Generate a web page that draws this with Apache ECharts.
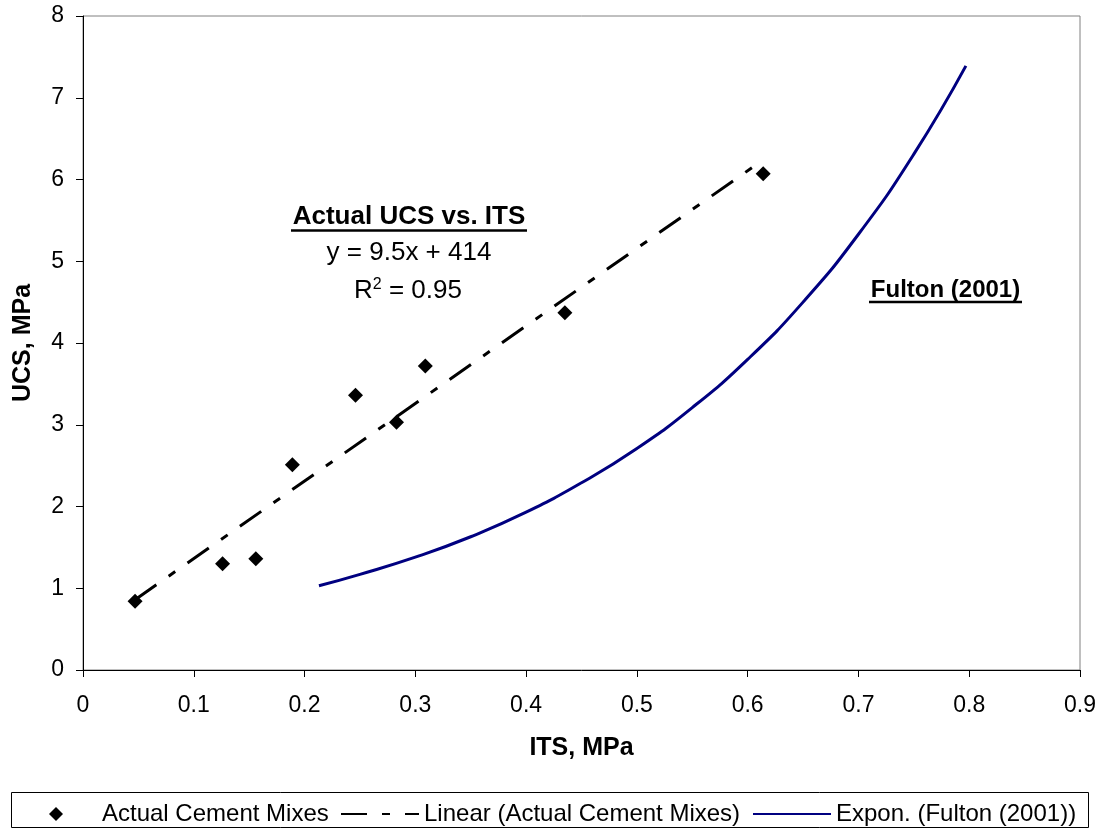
<!DOCTYPE html>
<html><head><meta charset="utf-8">
<script src="https://cdn.jsdelivr.net/npm/echarts@6/dist/echarts.min.js"></script>
<style>html,body{margin:0;padding:0;background:#fff}#c{width:1101px;height:830px}</style>
</head><body><div id="c"></div>
<script>
// Measured data (ITS, MPa vs UCS, MPa)
const mixITS = [0.047, 0.126, 0.156, 0.189, 0.246, 0.283, 0.309, 0.435, 0.614];
const mixUCS = [0.84, 1.30, 1.36, 2.51, 3.36, 3.03, 3.72, 4.37, 6.07];
// Linear trendline ends
const linearITS = [0.047, 0.614];
const linearUCS = [0.86, 6.24];
// Fulton (2001) exponential curve
const fultonITS = [0.213, 0.25, 0.30, 0.35, 0.40, 0.45, 0.50, 0.55, 0.60, 0.65, 0.70, 0.75, 0.797];
const fultonUCS = [1.03, 1.17, 1.38, 1.63, 1.93, 2.29, 2.71, 3.21, 3.80, 4.50, 5.33, 6.31, 7.39];
const xTickLabels = ['0','0.1','0.2','0.3','0.4','0.5','0.6','0.7','0.8','0.9'];
const yTickLabels = ['0','1','2','3','4','5','6','7','8'];
const seriesNames = ['Actual Cement Mixes', 'Linear (Actual Cement Mixes)', 'Expon. (Fulton (2001))'];

const FONT = '"Liberation Sans", Arial, sans-serif';
const zip = (a, b) => a.map((v, i) => [v, b[i]]);

const chart = echarts.init(document.getElementById('c'), null, {renderer: 'canvas'});
const legendText = {fontFamily: FONT, fontSize: 24, color: '#000'};
chart.setOption({
  animation: false,
  backgroundColor: '#fff',
  grid: {left: 83, right: 21, top: 16, bottom: 160, show: true, borderColor: '#808080', borderWidth: 1},
  xAxis: {
    type: 'value', min: 0, max: 0.9, interval: 0.1,
    name: 'ITS, MPa', nameLocation: 'middle', nameGap: 66,
    nameTextStyle: {fontFamily: FONT, fontSize: 25, fontWeight: 'bold', color: '#000'},
    axisLine: {show: true, lineStyle: {color: '#000', width: 1}},
    axisTick: {show: true, inside: false, length: 7, lineStyle: {color: '#000'}},
    axisLabel: {margin: 24, fontFamily: FONT, fontSize: 23, color: '#000',
      formatter: (v) => xTickLabels[Math.round(v * 10)]},
    splitLine: {show: false}
  },
  yAxis: {
    type: 'value', min: 0, max: 8, interval: 1,
    name: 'UCS, MPa', nameLocation: 'middle', nameGap: 47,
    nameTextStyle: {fontFamily: FONT, fontSize: 25, fontWeight: 'bold', color: '#000'},
    axisLine: {show: true, lineStyle: {color: '#000', width: 1}},
    axisTick: {show: true, inside: false, length: 7, lineStyle: {color: '#000'}},
    axisLabel: {margin: 19, fontFamily: FONT, fontSize: 23, color: '#000',
      formatter: (v) => yTickLabels[Math.round(v)]},
    splitLine: {show: false}
  },
  legend: [
    {data: [seriesNames[0]], left: 44, top: 797, itemWidth: 14, itemHeight: 14, itemGap: 0,
      itemStyle: {opacity: 1},
      textStyle: Object.assign({padding: [0, 0, 0, 34]}, legendText)},
    {data: [seriesNames[1]], left: 335, top: 797, itemWidth: 78, itemHeight: 14, itemGap: 0,
      itemStyle: {opacity: 0}, textStyle: legendText},
    {data: [seriesNames[2]], left: 747, top: 797, itemWidth: 78, itemHeight: 14, itemGap: 0,
      itemStyle: {opacity: 0}, textStyle: legendText}
  ],
  series: [
    {name: seriesNames[0], type: 'scatter', symbol: 'diamond', symbolSize: 15,
      itemStyle: {color: '#000', opacity: 1}, data: zip(mixITS, mixUCS), z: 5},
    {name: seriesNames[1], type: 'line', symbol: 'none', showSymbol: false,
      lineStyle: {color: '#000', width: 3, type: [26, 15, 8, 15], cap: 'butt'},
      itemStyle: {color: '#000'}, data: zip(linearITS, linearUCS), z: 3},
    {name: seriesNames[2], type: 'line', symbol: 'none', showSymbol: false, smooth: true,
      lineStyle: {color: '#000080', width: 3},
      itemStyle: {color: '#000080'}, data: zip(fultonITS, fultonUCS), z: 3}
  ],
  graphic: [
    {type: 'rect', shape: {x: 11.5, y: 792.5, width: 1077, height: 35}, style: {fill: 'none', stroke: '#000', lineWidth: 1}, z: 0},
    {type: 'text', x: 409, y: 217, style: {text: 'Actual UCS vs. ITS', font: 'bold 26px ' + FONT, fill: '#000', align: 'center', verticalAlign: 'middle'}},
    {type: 'line', shape: {x1: 291, y1: 230.5, x2: 527, y2: 230.5}, style: {stroke: '#000', lineWidth: 2.5}},
    {type: 'text', x: 409, y: 253, style: {text: 'y = 9.5x + 414', font: '26px ' + FONT, fill: '#000', align: 'center', verticalAlign: 'middle'}},
    {type: 'text', x: 408, y: 291, style: {text: '{t|R}{s|2}{t| = 0.95}', align: 'center', verticalAlign: 'middle',
      rich: {t: {fontFamily: FONT, fontSize: 26, fill: '#000', color: '#000'},
             s: {fontFamily: FONT, fontSize: 16, fill: '#000', color: '#000', verticalAlign: 'top', padding: [0, 0, 12, 0]}}}},
    {type: 'text', x: 945.5, y: 290, style: {text: 'Fulton (2001)', font: 'bold 24px ' + FONT, fill: '#000', align: 'center', verticalAlign: 'middle'}},
    {type: 'line', shape: {x1: 869, y1: 302, x2: 1022, y2: 302}, style: {stroke: '#000', lineWidth: 2.5}}
  ]
});
</script></body></html>
